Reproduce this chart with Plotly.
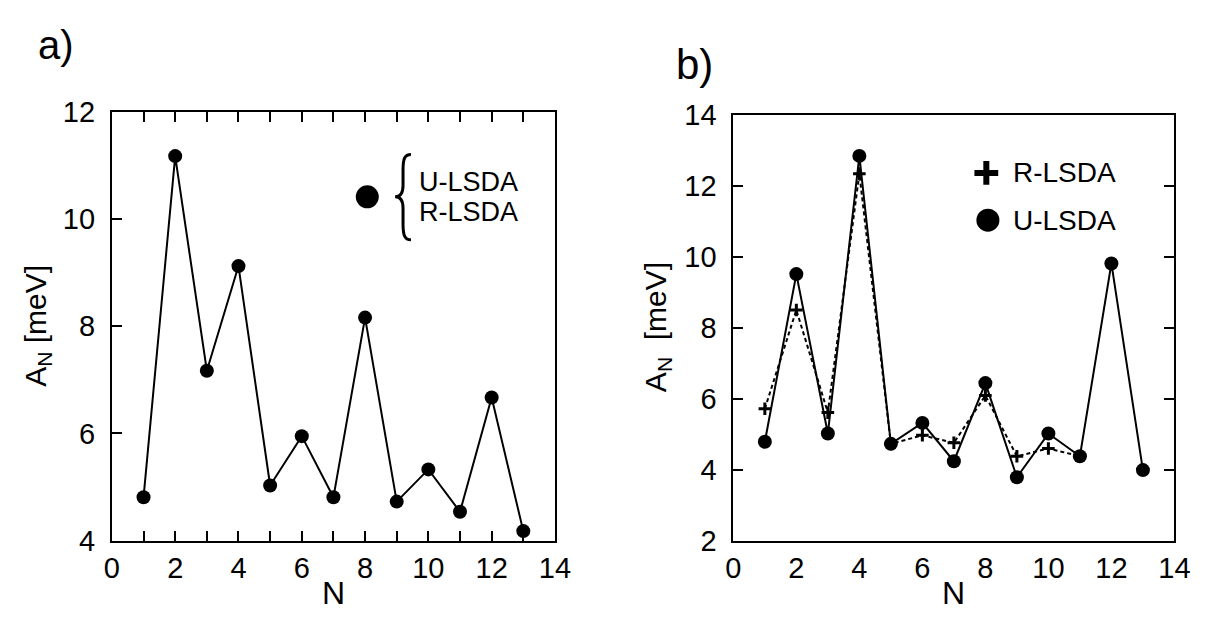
import plotly.graph_objects as go

# ---------------- data ----------------
N = list(range(1, 14))
a_lsda = [4.81, 11.17, 7.17, 9.12, 5.03, 5.95, 4.81, 8.16, 4.73, 5.33, 4.54, 6.67, 4.18]
b_ulsda = [4.79, 9.51, 5.02, 12.84, 4.73, 5.32, 4.24, 6.44, 3.79, 5.02, 4.38, 9.81, 3.99]
N_r = list(range(1, 12))
b_rlsda = [5.72, 8.50, 5.61, 12.34, 4.73, 4.97, 4.76, 6.09, 4.38, 4.60, 4.38]

x_ticks_major = [0, 2, 4, 6, 8, 10, 12, 14]
x_ticks_minor = list(range(0, 15))
a_y_ticks = [4, 6, 8, 10, 12]
b_y_ticks = [2, 4, 6, 8, 10, 12, 14]
a_right_ticks = [1, 2, 3, 4]

FONT = "Liberation Sans, Arial, sans-serif"
W, H = 1211, 627

def px_x(p):
    return p / W

def px_y(p):
    return 1 - p / H

fig = go.Figure()

# panel a
fig.add_trace(go.Scatter(x=N, y=a_lsda, mode="lines+markers",
                         line=dict(color="black", width=2),
                         marker=dict(symbol="circle", size=14, color="black"),
                         xaxis="x", yaxis="y", showlegend=False))
fig.add_trace(go.Scatter(x=[8.07], y=[10.41], mode="markers",
                         marker=dict(symbol="circle", size=23, color="black"),
                         xaxis="x", yaxis="y", showlegend=False))

# panel b
fig.add_trace(go.Scatter(x=N_r, y=b_rlsda, mode="lines+markers",
                         line=dict(color="black", width=2, dash="4px,3px"),
                         marker=dict(symbol="cross-thin-open", size=9, color="black",
                                     line=dict(color="black", width=3)),
                         xaxis="x2", yaxis="y3", showlegend=False))
fig.add_trace(go.Scatter(x=N, y=b_ulsda, mode="lines+markers",
                         line=dict(color="black", width=2),
                         marker=dict(symbol="circle", size=14, color="black"),
                         xaxis="x2", yaxis="y3", showlegend=False))
fig.add_trace(go.Scatter(x=[8.03], y=[12.36], mode="markers",
                         marker=dict(symbol="cross-thin-open", size=17, color="black",
                                     line=dict(color="black", width=6)),
                         xaxis="x2", yaxis="y3", showlegend=False))
fig.add_trace(go.Scatter(x=[8.08], y=[11.03], mode="markers",
                         marker=dict(symbol="circle", size=23, color="black"),
                         xaxis="x2", yaxis="y3", showlegend=False))

tickfont = dict(family=FONT, size=29, color="black")
common = dict(showline=True, linecolor="black", linewidth=2, showgrid=False,
              zeroline=False, tickfont=tickfont, ticklen=10, tickwidth=2,
              tickcolor="black")
minor_ticks = dict(ticks="inside", tickvals=x_ticks_minor, ticklen=10,
                   tickwidth=2, tickcolor="black", showgrid=False)

a_dom_x = [px_x(106), px_x(558)]
a_dom_y = [px_y(553), px_y(100.7)]
b_dom_x = [px_x(740), px_x(1190)]
b_dom_y = [px_y(553), px_y(104)]

fig.update_layout(
    width=W, height=H, margin=dict(l=0, r=0, t=0, b=0),
    paper_bgcolor="white", plot_bgcolor="white",
    xaxis=dict(domain=a_dom_x, anchor="y", range=[0, 14],
               tickvals=x_ticks_major, minor=minor_ticks,
               ticks="inside", mirror="ticks", ticklabelstandoff=0, **common),
    yaxis=dict(domain=a_dom_y, anchor="x", range=[4, 12], tickvals=a_y_ticks,
               ticks="inside", mirror=True, ticklabelstandoff=9, **common),
    yaxis2=dict(overlaying="y", anchor="x", side="right", range=[0, 5],
                tickvals=a_right_ticks, ticks="inside", showticklabels=False,
                showline=False, showgrid=False, zeroline=False,
                ticklen=10, tickwidth=2, tickcolor="black"),
    xaxis2=dict(domain=b_dom_x, anchor="y3", range=[0, 14],
                tickvals=x_ticks_major, ticks="", mirror=True,
                ticklabelstandoff=0, **common),
    xaxis3=dict(overlaying="x2", anchor="y3", side="top", range=[0, 14],
                tickvals=x_ticks_minor, ticks="inside", showticklabels=False,
                showline=False, showgrid=False, zeroline=False,
                ticklen=10, tickwidth=2, tickcolor="black"),
    yaxis3=dict(domain=b_dom_y, anchor="x2", range=[2, 14], tickvals=b_y_ticks,
                ticks="inside", mirror="ticks", ticklabelstandoff=9, **common),
)

def pann(text, x, y, size, angle=0):
    return dict(text=text, x=px_x(x), y=px_y(y), xref="paper", yref="paper",
                xanchor="center", yanchor="middle", textangle=angle,
                showarrow=False, font=dict(family=FONT, size=size, color="black"))

def dann(text, x, y, xr, yr, size=28):
    return dict(text=text, x=x, y=y, xref=xr, yref=yr, xanchor="left",
                yanchor="middle", showarrow=False,
                font=dict(family=FONT, size=size, color="black"))

annotations = [
    pann("a)", 49, 31, 40),
    pann("b)", 700, 51, 42),
    pann("A<sub>N</sub> [meV]", 30, 326, 30, -90),
    pann("A<sub>N</sub>\u00a0 [meV]", 662, 328, 30, -90),
    pann("N", 332, 608, 32),
    pann("N", 965, 608, 32),
    dann("U-LSDA", 9.63, 10.68, "x", "y", 27),
    dann("R-LSDA", 9.63, 10.13, "x", "y", 27),
    dann("R-LSDA", 8.8, 12.36, "x2", "y3"),
    dann("U-LSDA", 8.8, 11.03, "x2", "y3"),
]
fig.update_layout(annotations=annotations)

# curly brace of legend in panel a
brace = ("M 9.45,11.2 C 9.25,11.2 9.2,11.12 9.2,10.92 L 9.2,10.62 "
         "C 9.2,10.46 9.1,10.41 8.95,10.41 C 9.1,10.41 9.2,10.36 9.2,10.2 "
         "L 9.2,9.9 C 9.2,9.7 9.25,9.61 9.45,9.61")
fig.add_shape(type="path", path=brace, xref="x", yref="y",
              line=dict(color="black", width=3))

fig.write_html("out.html")
